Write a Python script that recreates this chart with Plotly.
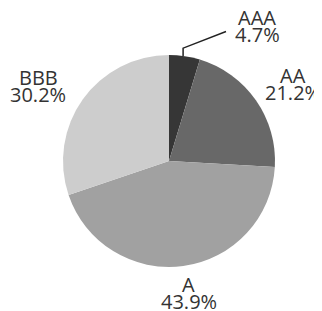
import math
import plotly.graph_objects as go

labels = ["AAA", "AA", "A", "BBB"]
values = [4.7, 21.2, 43.9, 30.2]
colors = ["#363636", "#686868", "#a1a1a1", "#cdcdcd"]

W, H = 322, 311
OFF = 8                      # page body margin
CX, CY, R = 169 - OFF, 161 - OFF, 106
# label placement styling: distance (radii), horizontal shift (px)
label_dist = [1.283, 1.27, 1.257, 1.216]
label_dx = [68, 14, 2, -26]
LINE_GAP = 17
FONT = dict(size=20, color="#333333", family="Open Sans")

fig = go.Figure(go.Pie(
    labels=labels, values=values, sort=False, direction="clockwise",
    rotation=0, marker=dict(colors=colors, line=dict(width=0)),
    textinfo="none", hoverinfo="label+percent", showlegend=False,
    domain=dict(x=[(CX - R) / W, (CX + R) / W], y=[1 - (CY + R) / H, 1 - (CY - R) / H]),
))

def px(x, y):
    return x / W, 1 - y / H

total = sum(values)
cum = 0
anns = []
shapes = []
for i, (lab, v) in enumerate(zip(labels, values)):
    mid = (cum + v / 2) / total * 2 * math.pi
    cum += v
    pct = f"{v / total * 100:.1f}%"
    tx = CX + label_dist[i] * R * math.sin(mid) + label_dx[i]
    ty = CY - label_dist[i] * R * math.cos(mid)
    for txt, yy in ((lab, ty - LINE_GAP / 2), (pct, ty + LINE_GAP / 2)):
        x, y = px(tx, yy)
        anns.append(dict(x=x, y=y, xref="paper", yref="paper", text=txt,
                         showarrow=False, xanchor="center", yanchor="middle",
                         font=FONT))
    if lab == "AAA":
        ex = CX + R * math.sin(mid) - 1.5
        ey = CY - R * math.cos(mid)
        p0 = px(ex, ey)
        p1 = px(ex, ey - 8)
        p2 = px(tx - 31, ty + 5)
        shapes.append(dict(type="path", xref="paper", yref="paper",
                           path=f"M {p0[0]} {p0[1]} L {p1[0]} {p1[1]} L {p2[0]} {p2[1]}",
                           line=dict(color="#222222", width=1.5)))

fig.update_layout(width=W, height=H, margin=dict(l=0, r=0, t=0, b=0),
                  paper_bgcolor="white", plot_bgcolor="white",
                  annotations=anns, shapes=shapes)
fig.write_html("out.html")
